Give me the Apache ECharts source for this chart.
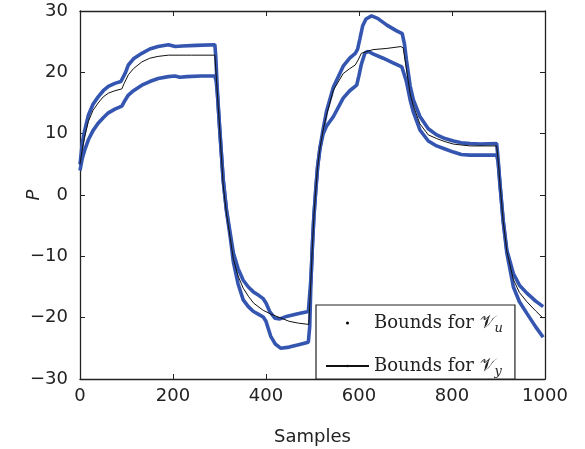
<!DOCTYPE html>
<html><head><meta charset="utf-8">
<script src="https://cdn.jsdelivr.net/npm/echarts@6/dist/echarts.min.js"></script>
<style>html,body{margin:0;padding:0;background:#fff}#c{width:585px;height:449px}</style>
</head><body><div id="c"></div>
<script>
const upperSamples = [0,5,10,18,28,39,50,61,75,88,92,98,104,115,133,150,168,190,205,220,250,290,292,296,301,308,315,323,330,340,351,362,373,385,394,400,408,419,430,444,466,491,494,497,500,503,507,511,516,523,530,545,566,580,592,597,602,608,615,627,640,660,680,693,695,698,702,710,717,731,749,767,785,803,820,839,860,896,899,903,910,918,932,945,961,980,996];
const upperValues = [5.0,8.5,10.5,13.0,14.8,16.0,17.0,17.7,18.2,18.5,18.8,20.0,21.2,22.2,23.1,23.8,24.2,24.5,24.2,24.3,24.4,24.5,22.6,16.0,10.1,2.4,-2.4,-6.2,-9.5,-12.0,-13.9,-15.0,-15.8,-16.4,-16.9,-17.6,-19.0,-20.1,-20.2,-19.8,-19.4,-19.0,-19.0,-13.3,-7.9,-3.5,0.8,4.6,7.6,10.8,13.6,17.6,21.0,22.3,23.1,23.8,25.5,27.6,28.7,29.2,28.8,27.7,26.8,26.3,26.0,24.5,22.0,17.8,15.5,12.8,10.8,9.8,9.2,8.8,8.5,8.4,8.3,8.4,6.0,1.9,-4.1,-9.0,-12.8,-14.7,-16.0,-17.3,-18.2];

const lowerSamples = [0,5,10,18,28,39,50,61,75,90,95,104,115,133,150,168,190,204,215,230,260,290,293,296,301,308,315,323,330,340,351,362,373,385,394,400,410,420,432,450,470,491,494,497,500,503,507,511,516,523,530,545,566,580,595,600,605,613,620,630,652,672,692,695,702,710,717,731,749,767,785,803,820,839,896,899,903,910,918,932,945,961,980,996];
const lowerValues = [4.0,6.0,7.3,9.0,10.5,11.7,12.6,13.4,14.0,14.5,15.2,16.3,17.0,17.9,18.5,19.0,19.3,19.4,19.2,19.3,19.4,19.4,18.5,16.0,10.1,2.4,-2.6,-6.8,-11.0,-14.5,-17.1,-18.2,-19.0,-19.5,-19.9,-20.6,-23.0,-24.3,-25.0,-24.8,-24.4,-24.0,-21.5,-13.3,-7.9,-3.5,0.8,4.6,7.6,10.0,11.2,12.8,15.8,17.0,17.9,19.5,21.3,23.2,23.4,23.0,22.3,21.6,20.9,20.8,18.5,15.5,13.5,10.6,8.8,8.0,7.5,7.0,6.6,6.5,6.5,5.5,1.9,-4.3,-9.5,-15.0,-17.4,-19.3,-21.5,-23.2];

const ySamples = [0,5,10,18,28,39,50,61,75,90,95,104,115,133,150,168,190,240,290,292,301,308,315,323,330,340,351,362,373,385,394,410,430,450,470,492,494,497,500,503,507,511,516,523,530,545,566,580,592,598,605,630,660,690,695,700,710,717,731,749,767,785,803,839,896,900,903,910,918,932,945,961,980,996];
const yValues = [5.0,7.5,9.5,12.0,13.8,15.0,16.0,16.6,17.0,17.3,18.2,19.6,20.6,21.7,22.3,22.6,22.8,22.8,22.8,22.6,10.1,1.5,-3.0,-7.0,-10.5,-13.2,-15.2,-16.5,-17.6,-18.3,-18.8,-19.4,-20.0,-20.6,-20.9,-21.1,-21.3,-13.3,-7.9,-3.5,0.8,4.6,7.6,10.6,13.0,17.1,19.8,20.6,21.2,22.0,23.1,23.7,23.9,24.2,24.0,21.5,16.5,14.5,11.6,9.8,9.2,8.7,8.3,8.0,8.0,5.0,1.9,-4.2,-9.2,-13.8,-15.9,-17.4,-18.9,-20.1];

const xTicks = [0, 200, 400, 600, 800, 1000];
const yTicks = [-30, -20, -10, 0, 10, 20, 30];

const pairs = (xs, ys) => xs.map((x, i) => [x, ys[i]]);
const BLUE = '#3556b0';
const AX = '#222';
const FONT = 'DejaVu Sans';
const chart = echarts.init(document.getElementById('c'), null, {renderer: 'canvas'});
const nameU = 'Bounds for Vu', nameY = 'Bounds for Vy';
const tickStyle = {inside: true, length: 5, lineStyle: {color: AX, width: 1}};
const lineStyleAx = {color: AX, width: 1.3};
chart.setOption({
  animation: false,
  backgroundColor: '#fff',
  grid: {left: 80, right: 40, top: 11, bottom: 70, show: false, containLabel: false, outerBoundsMode: 'none'},
  xAxis: [
    {type: 'value', min: xTicks[0], max: xTicks[xTicks.length-1], interval: 200, position: 'bottom',
     name: 'Samples', nameLocation: 'middle', nameGap: 49, nameMoveOverlap: false,
     nameTextStyle: {fontFamily: FONT, fontSize: 18, color: AX},
     axisLine: {onZero: false, lineStyle: lineStyleAx}, axisTick: tickStyle,
     axisLabel: {fontFamily: FONT, fontSize: 18, color: AX, margin: 8, formatter: v => String(v)},
     splitLine: {show: false}},
    {type: 'value', min: 0, max: 1000, interval: 200, position: 'top',
     axisLine: {show: true, onZero: false, lineStyle: lineStyleAx}, axisTick: tickStyle,
     axisLabel: {show: false}, splitLine: {show: false}}
  ],
  yAxis: [
    {type: 'value', min: yTicks[0], max: yTicks[yTicks.length-1], interval: 10, position: 'left',
     name: 'P', nameLocation: 'middle', nameGap: 37, nameRotate: 90, nameMoveOverlap: false,
     nameTextStyle: {fontFamily: FONT, fontSize: 18, fontStyle: 'italic', color: AX},
     axisLine: {onZero: false, lineStyle: lineStyleAx}, axisTick: tickStyle,
     axisLabel: {fontFamily: FONT, fontSize: 18, color: AX, margin: 12,
       formatter: v => v < 0 ? '\u2212' + Math.abs(v) : String(v)},
     splitLine: {show: false}},
    {type: 'value', min: -30, max: 30, interval: 10, position: 'right',
     axisLine: {show: true, onZero: false, lineStyle: lineStyleAx}, axisTick: tickStyle,
     axisLabel: {show: false}, splitLine: {show: false}}
  ],
  legend: {
    orient: 'vertical', left: 316, top: 305,
    padding: [9, 12, 1, 9], itemGap: 22, itemWidth: 43, itemHeight: 3,
    backgroundColor: '#fff', borderColor: AX, borderWidth: 1.2, borderRadius: 0,
    selectedMode: false,
    data: [
      {name: nameU, icon: 'circle', itemStyle: {color: '#000'}},
      {name: nameY}
    ],
    formatter: n => n === nameU ? '{t|Bounds for }{v|\u{1D4B1}}{s|u}' : '{t|Bounds for }{v|\u{1D4B1}}{s|y}',
    textStyle: {
      color: '#222',
      rich: {
        t: {fontFamily: 'DejaVu Serif', fontSize: 18, color: '#222', lineHeight: 24},
        v: {fontFamily: 'DejaVu Serif', fontSize: 18, color: '#222', lineHeight: 24},
        s: {fontFamily: 'DejaVu Serif', fontStyle: 'italic', fontSize: 13, color: '#222', verticalAlign: 'bottom', lineHeight: 24}
      }
    }
  },
  series: [
    {name: nameU, type: 'line', data: pairs(upperSamples, upperValues), showSymbol: false, symbol: 'none',
     lineStyle: {color: BLUE, width: 3.6}, itemStyle: {color: BLUE}, z: 2},
    {name: nameU, type: 'line', data: pairs(lowerSamples, lowerValues), showSymbol: false, symbol: 'none',
     lineStyle: {color: BLUE, width: 3.6}, itemStyle: {color: BLUE}, z: 2},
    {name: nameY, type: 'line', data: pairs(ySamples, yValues), showSymbol: false, symbol: 'none',
     lineStyle: {color: '#111', width: 1}, itemStyle: {color: '#111'}, z: 3}
  ]
});
</script></body></html>
